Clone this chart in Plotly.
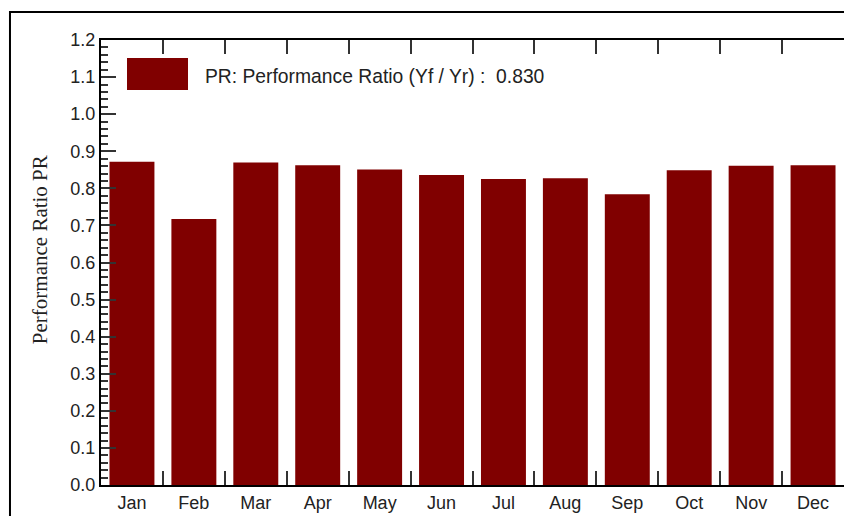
import plotly.graph_objects as go

months = ["Jan", "Feb", "Mar", "Apr", "May", "Jun", "Jul", "Aug", "Sep", "Oct", "Nov", "Dec"]
pr_values = [0.872, 0.717, 0.870, 0.862, 0.851, 0.836, 0.825, 0.827, 0.784, 0.849, 0.861, 0.862]
legend_text = "PR: Performance Ratio (Yf / Yr) :  0.830"
y_title = "Performance Ratio PR"

BAR = "#800000"
SANS = "Liberation Sans, Arial, sans-serif"
SERIF = "Liberation Serif, Times New Roman, serif"

fig = go.Figure()
fig.add_trace(go.Bar(x=months, y=pr_values, marker=dict(color=BAR, line=dict(width=0)),
                     name=legend_text, showlegend=False))

yticks_common = dict(
    range=[0, 1.2], dtick=0.1, tickformat=".1f",
    showline=True, linecolor="black", linewidth=2,
    ticks="inside", ticklen=15, tickwidth=1.5, tickcolor="#333",
    minor=dict(dtick=0.02, ticks="inside", ticklen=7, tickwidth=1.5, tickcolor="#333", showgrid=False),
    showgrid=False, zeroline=False,
)

fig.update_layout(
    width=844, height=516,
    margin=dict(l=101, r=0, t=40, b=31),
    paper_bgcolor="white", plot_bgcolor="white",
    bargap=0.274,
    xaxis=dict(
        type="category", range=[-0.5, 11.5],
        showline=True, linecolor="black", linewidth=2, mirror="ticks",
        ticks="inside", tickson="boundaries", ticklen=14, tickwidth=1.5, tickcolor="#333",
        showgrid=False, tickfont=dict(family=SANS, size=18, color="#222"),
    ),
    yaxis=dict(**yticks_common, tickfont=dict(family=SANS, size=18, color="#222")),
    yaxis2=dict(**yticks_common, overlaying="y", side="right", showticklabels=False),
    shapes=[
        dict(type="rect", xref="paper", yref="paper", x0=-0.1225, x1=1.3, y0=-0.5, y1=1.0629,
             line=dict(color="black", width=2), fillcolor="rgba(0,0,0,0)", layer="below"),
        dict(type="rect", xref="paper", yref="paper", x0=0.035, x1=0.1171, y0=0.8876, y1=0.9596,
             line=dict(width=0), fillcolor=BAR),
    ],
    annotations=[
        dict(text=legend_text, xref="paper", yref="paper", x=0.1373, y=0.919,
             xanchor="left", yanchor="middle", showarrow=False,
             font=dict(family=SANS, size=19.3, color="#222")),
        dict(text=y_title, xref="paper", yref="paper", x=-0.0821, y=0.53,
             xanchor="center", yanchor="middle", textangle=-90, showarrow=False,
             font=dict(family=SERIF, size=21, color="#222")),
    ],
)

fig.write_html("out.html", config={"displayModeBar": False},
               post_script="document.body.style.margin='0';document.body.style.overflow='hidden';")
